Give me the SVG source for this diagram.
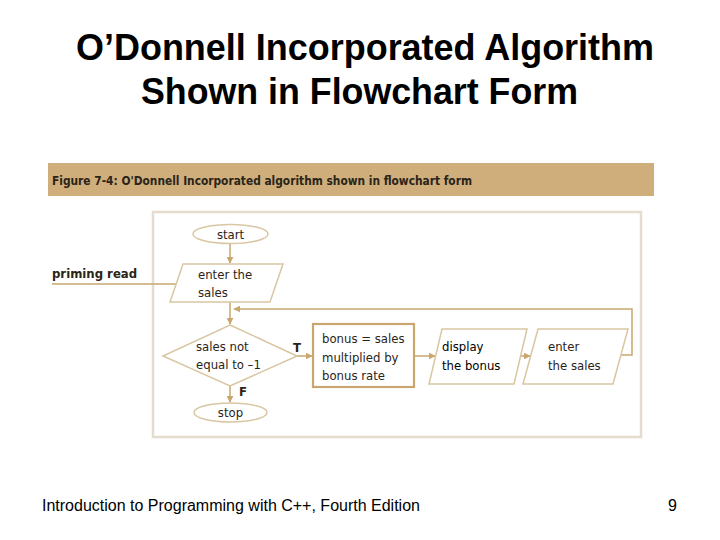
<svg xmlns="http://www.w3.org/2000/svg" width="720" height="540" viewBox="0 0 720 540">
<style>
.title{font-family:"Liberation Sans",Arial,sans-serif;font-weight:bold;font-size:37px;fill:#000}
.foot{font-family:"Liberation Sans",Arial,sans-serif;font-size:16px;fill:#000}
.fig{font-family:"Liberation Sans Narrow","DejaVu Sans Condensed","Liberation Sans",sans-serif;font-weight:bold;font-size:13px;fill:#2a2418}
.t{font-family:"Liberation Sans Narrow","DejaVu Sans Condensed","Liberation Sans",sans-serif;font-size:13px;fill:#2a2418}
.tb{font-family:"Liberation Sans Narrow","DejaVu Sans Condensed","Liberation Sans",sans-serif;font-size:13px;font-weight:bold;fill:#2a2418}
.shape{fill:#fff;stroke:#d9c6a2;stroke-width:1.5}
.box{fill:#fff;stroke:#c9a66e;stroke-width:2.2}
.conn{fill:none;stroke:#c9a66e;stroke-width:1.5}
</style>
<defs>
<marker id="ah" viewBox="0 0 10 10" refX="9" refY="5" markerWidth="7" markerHeight="7" orient="auto" markerUnits="userSpaceOnUse">
<path d="M0,0 L10,5 L0,10 z" fill="#c9a66e"/>
</marker>
</defs>
<rect width="720" height="540" fill="#fff"/>
<text class="title" x="76" y="60" textLength="578" lengthAdjust="spacingAndGlyphs">O’Donnell Incorporated Algorithm</text>
<text class="title" x="141" y="104" textLength="437" lengthAdjust="spacingAndGlyphs">Shown in Flowchart Form</text>
<rect x="48" y="163" width="606" height="33" fill="#cfae7c"/>
<text class="fig" x="52" y="185" textLength="420" lengthAdjust="spacingAndGlyphs">Figure 7-4: O'Donnell Incorporated algorithm shown in flowchart form</text>
<rect x="153" y="212" width="488" height="225" fill="#fff" stroke="#e4dccd" stroke-width="2.5"/>
<g id="connectors">
<line class="conn" x1="52" y1="284" x2="178" y2="284"/>
<line class="conn" x1="230" y1="243" x2="230" y2="263" marker-end="url(#ah)"/>
<line class="conn" x1="230" y1="302" x2="230" y2="324" marker-end="url(#ah)"/>
<polyline class="conn" points="620,355 632,355 632,309 234,309" marker-end="url(#ah)"/>
<line class="conn" x1="297" y1="356" x2="312" y2="356" marker-end="url(#ah)"/>
<line class="conn" x1="230" y1="386" x2="230" y2="402" marker-end="url(#ah)"/>
<line class="conn" x1="414" y1="356" x2="435" y2="356" marker-end="url(#ah)"/>
<line class="conn" x1="520" y1="356" x2="530" y2="356" marker-end="url(#ah)"/>
</g>
<text class="tb" x="52" y="278">priming read</text>
<g id="start">
<ellipse class="shape" cx="230.5" cy="234" rx="37.5" ry="9.5"/>
<text class="t" x="230.5" y="238.5" text-anchor="middle">start</text>
</g>
<g id="enter1">
<polygon class="shape" points="183,264 283,264 270,302 170,302"/>
<text class="t" x="198" y="279">enter the</text>
<text class="t" x="198" y="297">sales</text>
</g>
<g id="decision">
<polygon class="shape" points="230,325 297,356 230,386 163,356"/>
<text class="t" x="196" y="351">sales not</text>
<text class="t" x="196" y="369">equal to –1</text>
<text class="tb" x="293" y="352">T</text>
<text class="tb" x="239" y="396">F</text>
</g>
<g id="stop">
<ellipse class="shape" cx="230.5" cy="412.5" rx="36.5" ry="9.5"/>
<text class="t" x="230.5" y="417" text-anchor="middle">stop</text>
</g>
<g id="bonus">
<rect class="box" x="313" y="324" width="101" height="63"/>
<text class="t" x="322" y="343">bonus = sales</text>
<text class="t" x="322" y="362">multiplied by</text>
<text class="t" x="322" y="380">bonus rate</text>
</g>
<g id="display">
<polygon class="shape" points="442,329 527,329 514,384 429,384"/>
<text class="t" x="442" y="351" style="fill:#000">display</text>
<text class="t" x="442" y="370" style="fill:#000">the bonus</text>
</g>
<g id="enter2">
<polygon class="shape" points="538,329 628,329 613,384 523,384"/>
<text class="t" x="548" y="351">enter</text>
<text class="t" x="548" y="370">the sales</text>
</g>
<text class="foot" x="42" y="511">Introduction to Programming with C++, Fourth Edition</text>
<text class="foot" x="668" y="511">9</text>
</svg>
